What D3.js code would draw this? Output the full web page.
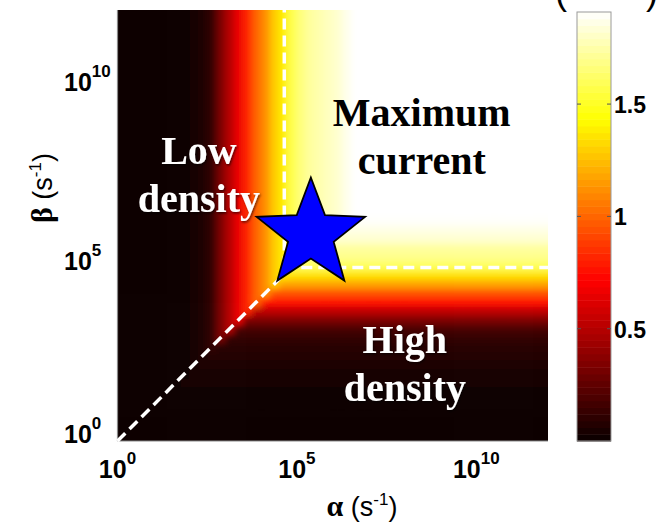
<!DOCTYPE html>
<html>
<head>
<meta charset="utf-8">
<script src="https://cdn.jsdelivr.net/npm/d3@7"></script>
<style>
body { margin: 0; background: #fff; }
svg { display: block; }
</style>
</head>
<body>
<script>
// phase diagram of the current J over (alpha, beta), log-log axes

var logStep = 0.25;   // width of one grid cell in decades, grid covers 10^0 .. 10^12

// J read along alpha in the low density part (alpha < beta), one value per cell
var lowDensityJ = [
    0.00, 0.00, 0.00, 0.00, 0.00, 0.00, 0.00, 0.01,   // 0 - 2
    0.03, 0.06, 0.12, 0.33, 0.50, 0.66, 0.83, 1.00,   // 2 - 4
    1.12, 1.29, 1.39, 1.58, 1.67, 1.73, 1.76, 1.79,   // 4 - 6
    1.82, 1.87, 1.91, 1.91, 1.91, 1.91, 1.91, 1.91,   // 6 - 8
    1.91, 1.91, 1.91, 1.91, 1.91, 1.91, 1.91, 1.91,   // 8 - 10
    1.91, 1.91, 1.91, 1.91, 1.91, 1.91, 1.91, 1.91    // 10 - 12
];

// J read along beta in the high density part (beta < alpha)
var highDensityJ = [
    0.00, 0.00, 0.00, 0.00, 0.01, 0.02, 0.03, 0.04,
    0.05, 0.07, 0.09, 0.12, 0.18, 0.33, 0.52, 0.76,
    0.94, 1.17, 1.35, 1.60, 1.69, 1.73, 1.82, 1.86,
    1.90, 1.91, 1.91, 1.91, 1.91, 1.91, 1.91, 1.91,
    1.91, 1.91, 1.91, 1.91, 1.91, 1.91, 1.91, 1.91,
    1.91, 1.91, 1.91, 1.91, 1.91, 1.91, 1.91, 1.91
];

var jMax = 1.91;
var axisTicks = [1, 1e5, 1e10];
var axisExponents = ["0", "5", "10"];
var colorTicks = [0.5, 1, 1.5];

// phase boundaries (white dashed lines)
var alphaC = Math.pow(10, 4.65),
    betaC = Math.pow(10, 4.83);
var diagonalLine = [[1, 1], [alphaC, alphaC]];
var verticalLine = [[alphaC, betaC], [alphaC, 1e12]];
var horizontalLine = [[alphaC, betaC], [Math.pow(10, 12.15), betaC]];

// operating point (star)
var starPoint = [Math.pow(10, 5.39), Math.pow(10, 5.75)];

// phase labels: text lines, colour, position (alpha, beta)
var phaseLabels = [
    {lines: ["Maximum", "current"], color: "#000", a: Math.pow(10, 8.48), b: Math.pow(10, 8.77)},
    {lines: ["Low", "density"], color: "#fff", a: Math.pow(10, 2.27), b: Math.pow(10, 7.72)},
    {lines: ["High", "density"], color: "#fff", a: Math.pow(10, 8.01), b: Math.pow(10, 2.45)}
];

var outerWidth = 668,
    outerHeight = 526;

var x = d3.scaleLog().domain([1, 1e12]).range([117.5, 548]);
var y = d3.scaleLog().domain([1, 1e12]).range([441, 10]);

// MATLAB "hot" colormap
var hot = d3.scaleLinear()
    .domain([0, 3 / 8 * jMax, 6 / 8 * jMax, jMax])
    .range(["#090000", "#ff0000", "#ffff00", "#ffffff"])
    .clamp(true);

var svg = d3.select("body")
    .append("svg")
    .attr("width", outerWidth)
    .attr("height", outerHeight);

var defs = svg.append("defs");

defs.append("clipPath")
    .attr("id", "plotClip")
    .append("rect")
    .attr("x", x(1))
    .attr("y", y(1e12))
    .attr("width", x(1e12) - x(1))
    .attr("height", y(1) - y(1e12));

defs.append("filter")
    .attr("id", "smooth")
    .attr("filterUnits", "userSpaceOnUse")
    .attr("x", 80).attr("y", -30).attr("width", 520).attr("height", 520)
    .append("feGaussianBlur")
    .attr("stdDeviation", 3);

defs.append("filter")
    .attr("id", "shadow")
    .attr("x", "-20%").attr("y", "-20%").attr("width", "140%").attr("height", "140%")
    .append("feDropShadow")
    .attr("dx", 1).attr("dy", 1.5)
    .attr("stdDeviation", 1.2)
    .attr("flood-color", "#000")
    .attr("flood-opacity", 0.6);

// build the grid
var n = lowDensityJ.length;
var cells = [];
for (var i = 0; i < n; i++) {
    for (var j = 0; j < n; j++) {
        cells.push({
            i: i,
            j: j,
            v: i <= j ? lowDensityJ[i] : highDensityJ[j]
        });
    }
}

function edge(k) { return Math.pow(10, k * logStep); }

var heat = svg.append("g")
    .attr("clip-path", "url(#plotClip)")
    .append("g")
    .attr("filter", "url(#smooth)");

heat.selectAll("rect")
    .data(cells)
    .enter().append("rect")
    .attr("x", function(d) { return x(edge(d.i)) - (d.i == 0 ? 12 : 0); })
    .attr("y", function(d) { return y(edge(d.j + 1)) - (d.j == n - 1 ? 12 : 0); })
    .attr("width", function(d) {
        return x(edge(d.i + 1)) - x(edge(d.i)) + 0.6 + (d.i == 0 || d.i == n - 1 ? 12 : 0);
    })
    .attr("height", function(d) {
        return y(edge(d.j)) - y(edge(d.j + 1)) + 0.6 + (d.j == 0 || d.j == n - 1 ? 12 : 0);
    })
    .style("fill", function(d) { return hot(d.v); });

// axis lines (left and bottom only)
svg.append("line")
    .attr("x1", x(1)).attr("x2", x(1))
    .attr("y1", y(1e12)).attr("y2", y(1))
    .style("stroke", "#8a8a8a").style("stroke-width", 1.2);
svg.append("line")
    .attr("x1", x(1)).attr("x2", x(1e12))
    .attr("y1", y(1)).attr("y2", y(1))
    .style("stroke", "#8a8a8a").style("stroke-width", 1.2);

// dashed boundaries
var line = d3.line()
    .x(function(d) { return x(d[0]); })
    .y(function(d) { return y(d[1]); });

svg.selectAll(".boundary")
    .data([diagonalLine, verticalLine, horizontalLine])
    .enter().append("path")
    .attr("class", "boundary")
    .attr("d", line)
    .style("fill", "none")
    .style("stroke", "#fff")
    .style("stroke-width", 3.5)
    .style("stroke-dasharray", "11,6");

// phase labels
phaseLabels.forEach(function(p) {
    var t = svg.append("text")
        .attr("x", x(p.a))
        .attr("y", y(p.b))
        .attr("text-anchor", "middle")
        .attr("font-family", "'Liberation Serif', 'Times New Roman', serif")
        .attr("font-weight", "bold")
        .attr("font-size", "40px")
        .style("fill", p.color);
    if (p.color == "#fff") t.attr("filter", "url(#shadow)");
    p.lines.forEach(function(s, k) {
        t.append("tspan")
            .attr("x", x(p.a))
            .attr("dy", k == 0 ? 0 : 48)
            .text(s);
    });
});

// star marker
function starPath(R, r) {
    var pts = [];
    for (var k = 0; k < 10; k++) {
        var ang = -Math.PI / 2 + k * Math.PI / 5;
        var rad = k % 2 == 0 ? R : r;
        pts.push([rad * Math.cos(ang), rad * Math.sin(ang)]);
    }
    return "M" + pts.join("L") + "Z";
}

svg.append("path")
    .attr("d", starPath(57, 24))
    .attr("transform", "translate(" + x(starPoint[0]) + "," + y(starPoint[1]) + ")")
    .style("fill", "#0000ff")
    .style("stroke", "#000")
    .style("stroke-width", 1.8)
    .style("stroke-linejoin", "miter");

// tick labels
var tickFont = "'Liberation Sans', Arial, Helvetica, sans-serif";

svg.selectAll(".xtick")
    .data(axisTicks)
    .enter().append("text")
    .attr("class", "xtick")
    .attr("x", function(d) { return x(d); })
    .attr("y", 478)
    .attr("text-anchor", "middle")
    .attr("font-family", tickFont)
    .attr("font-weight", "bold")
    .attr("font-size", "25px")
    .each(function(d, k) {
        var t = d3.select(this);
        t.append("tspan").text("10");
        t.append("tspan").attr("dy", -14).attr("font-size", "17px").text(axisExponents[k]);
    });

svg.selectAll(".ytick")
    .data(axisTicks)
    .enter().append("text")
    .attr("class", "ytick")
    .attr("x", 64)
    .attr("y", function(d) { return Math.min(y(d) + 9, 443); })
    .attr("font-family", tickFont)
    .attr("font-weight", "bold")
    .attr("font-size", "25px")
    .each(function(d, k) {
        var t = d3.select(this);
        t.append("tspan").text("10");
        t.append("tspan").attr("dy", -14).attr("font-size", "17px").text(axisExponents[k]);
    });

// axis labels
var xl = svg.append("text")
    .attr("x", 362)
    .attr("y", 516)
    .attr("text-anchor", "middle")
    .attr("font-family", tickFont)
    .attr("font-size", "27px");
xl.append("tspan").attr("font-family", "'Liberation Serif', serif").attr("font-weight", "bold").attr("font-size", "30px").text("α");
xl.append("tspan").text(" (s");
xl.append("tspan").attr("dy", -11).attr("font-size", "17px").text("-1");
xl.append("tspan").attr("dy", 11).text(")");

var yl = svg.append("text")
    .attr("transform", "translate(52,188) rotate(-90)")
    .attr("text-anchor", "middle")
    .attr("font-family", tickFont)
    .attr("font-size", "27px");
yl.append("tspan").attr("font-family", "'Liberation Serif', serif").attr("font-weight", "bold").attr("font-size", "30px").text("β");
yl.append("tspan").text(" (s");
yl.append("tspan").attr("dy", -11).attr("font-size", "17px").text("-1");
yl.append("tspan").attr("dy", 11).text(")");

// colorbar
var cbX = 577, cbW = 34;
var cy = d3.scaleLinear().domain([0, jMax]).range([441, 12]);
var cbSteps = d3.range(64);

var cb = svg.append("g");
cb.selectAll("rect")
    .data(cbSteps)
    .enter().append("rect")
    .attr("x", cbX)
    .attr("y", function(k) { return cy((k + 1) / 64 * jMax); })
    .attr("width", cbW)
    .attr("height", function(k) { return cy(k / 64 * jMax) - cy((k + 1) / 64 * jMax) + 0.5; })
    .style("fill", function(k) { return hot((k + 0.5) / 64 * jMax); });

cb.append("rect")
    .attr("x", cbX).attr("y", cy(jMax))
    .attr("width", cbW).attr("height", cy(0) - cy(jMax))
    .style("fill", "none")
    .style("stroke", "#9a9a9a")
    .style("stroke-width", 1);

cb.selectAll(".cbtick")
    .data(colorTicks)
    .enter().append("path")
    .attr("class", "cbtick")
    .attr("d", function(d) {
        return "M" + cbX + "," + cy(d) + "h4M" + (cbX + cbW) + "," + cy(d) + "h-4";
    })
    .style("stroke", "#555")
    .style("stroke-width", 1);

cb.selectAll(".cblabel")
    .data(colorTicks)
    .enter().append("text")
    .attr("class", "cblabel")
    .attr("x", cbX + cbW + 3)
    .attr("y", function(d) { return cy(d) + 9; })
    .attr("font-family", tickFont)
    .attr("font-weight", "bold")
    .attr("font-size", "23px")
    .text(function(d) { return d; });

// colorbar title: it sits above the top edge, only the bottoms of the brackets show
var ct = svg.append("text")
    .attr("x", 555)
    .attr("y", 4)
    .attr("font-family", tickFont)
    .attr("font-size", "36px");
ct.append("tspan").text("(");
ct.append("tspan").attr("dy", -9).attr("font-size", "28px").text("10");
ct.append("tspan").attr("dy", -10).attr("font-size", "18px").text("6");
ct.append("tspan").attr("dy", 10).attr("font-size", "28px").text(" s");
ct.append("tspan").attr("dy", -10).attr("font-size", "18px").text("-1");
ct.append("tspan").attr("dy", 19).text(")");
</script>
</body>
</html>
